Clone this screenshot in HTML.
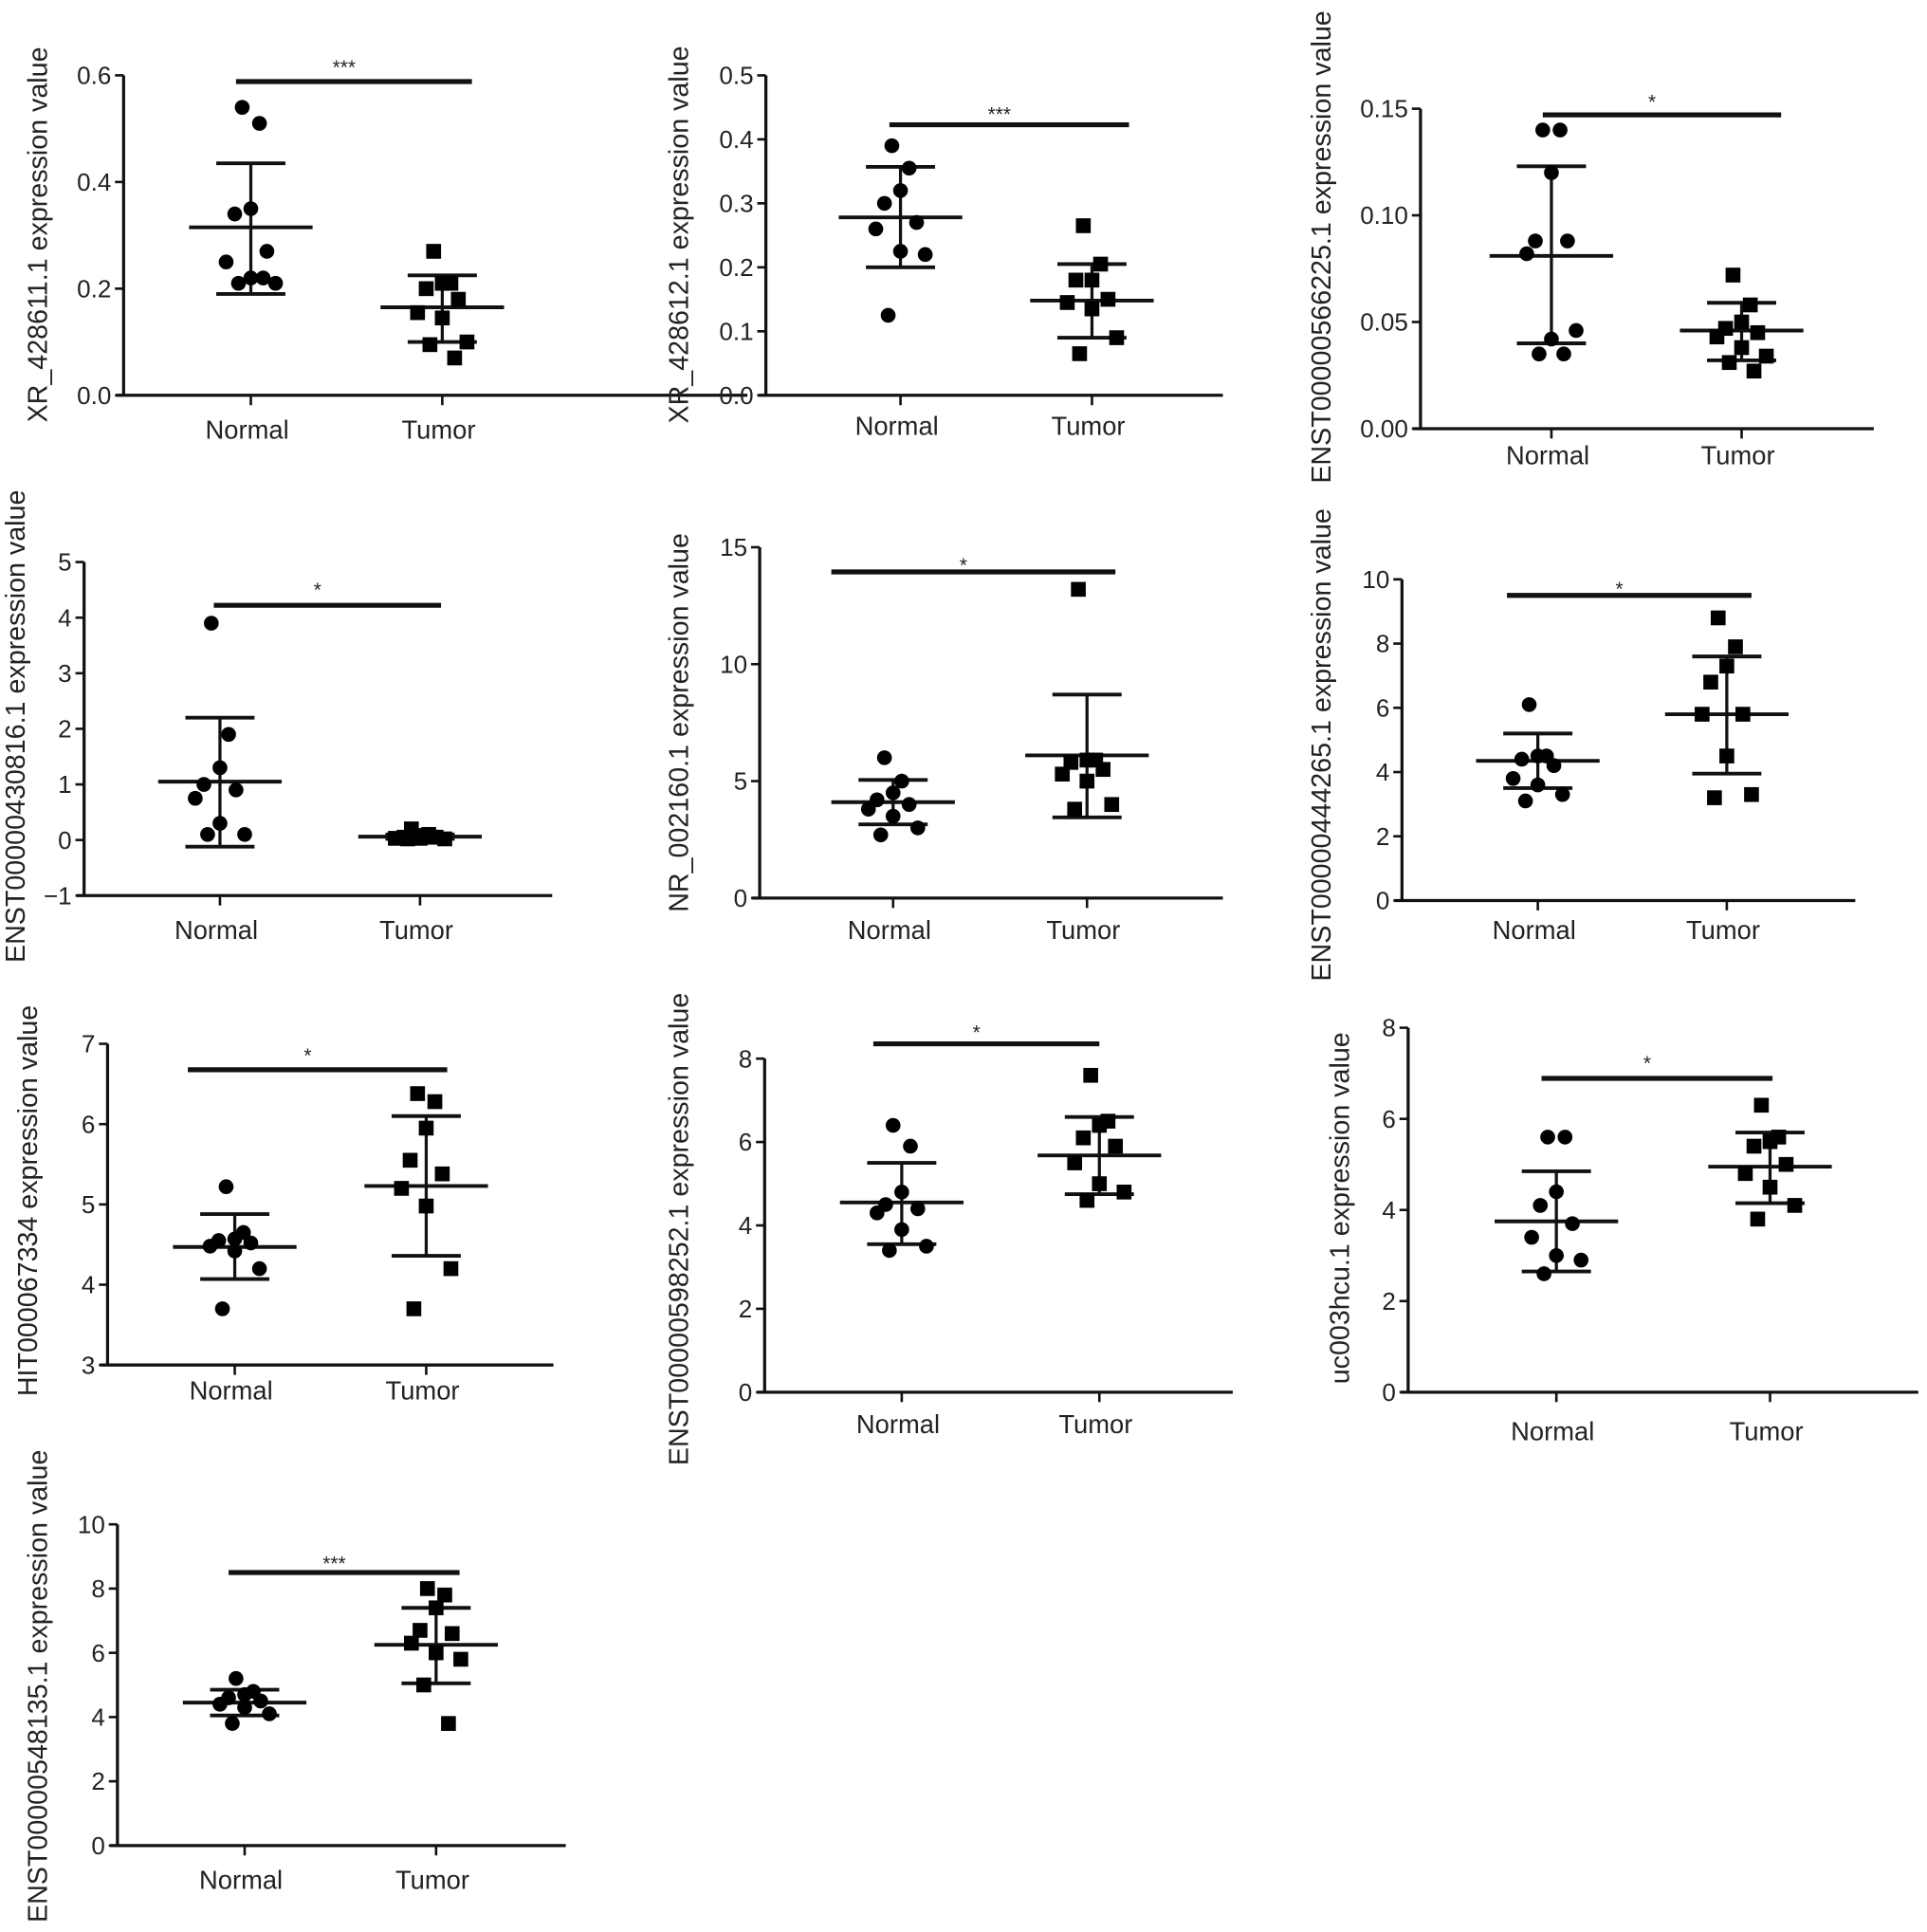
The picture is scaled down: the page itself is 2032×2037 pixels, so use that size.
<!DOCTYPE html>
<html><head><meta charset="utf-8"><style>
html,body{margin:0;padding:0;background:#fff}
svg{display:block}
text{font-family:"Liberation Sans",Arial,sans-serif;fill:#222}
</style></head><body>
<svg id="fig" width="2032" height="2037" viewBox="0 0 1560 1564" xmlns="http://www.w3.org/2000/svg"></svg>
<script>
// ---- data ----
const panelTitles = ["XR_428611.1 expression value","XR_428612.1 expression value","ENST00000566225.1 expression value","ENST00000430816.1 expression value","NR_002160.1 expression value","ENST00000444265.1 expression value","HIT000067334 expression value","ENST00000598252.1 expression value","uc003hcu.1 expression value","ENST00000548135.1 expression value"];
const categories = ["Normal","Tumor"];
const sigLabels = ["***","***","*","*","*","*","*","*","*","***"];
const normalValues = [
 [0.54,0.51,0.35,0.34,0.27,0.25,0.22,0.21,0.21,0.22],
 [0.39,0.355,0.32,0.30,0.27,0.26,0.225,0.22,0.125],
 [0.14,0.14,0.12,0.088,0.088,0.082,0.042,0.046,0.035,0.035],
 [3.9,1.9,1.3,1.0,0.9,0.75,0.3,0.1,0.1],
 [6.0,5.0,4.5,4.2,4.0,3.8,3.5,3.0,2.7],
 [6.1,4.5,4.5,4.4,4.2,3.8,3.6,3.3,3.1],
 [5.22,4.65,4.57,4.55,4.52,4.48,4.42,4.2,3.7],
 [6.4,5.9,4.8,4.5,4.4,4.3,3.9,3.5,3.4],
 [5.6,5.6,4.4,4.1,3.7,3.4,3.0,2.9,2.6],
 [5.2,4.8,4.7,4.6,4.5,4.4,4.3,4.1,3.8]
];
const tumorValues = [
 [0.27,0.21,0.21,0.20,0.18,0.155,0.145,0.10,0.095,0.07],
 [0.265,0.205,0.18,0.18,0.15,0.145,0.135,0.09,0.065],
 [0.072,0.058,0.05,0.047,0.045,0.043,0.038,0.034,0.031,0.027],
 [0.2,0.1,0.08,0.05,0.05,0.03,0.03,0.02,0.02,0.05],
 [13.2,5.9,5.9,5.8,5.5,5.3,5.0,4.0,3.8],
 [8.8,7.9,7.3,6.8,5.8,5.8,4.5,3.3,3.2],
 [6.38,6.28,5.95,5.55,5.38,5.2,4.98,4.2,3.7],
 [7.6,6.5,6.4,6.1,5.9,5.5,5.0,4.8,4.6],
 [6.3,5.6,5.5,5.4,5.0,4.8,4.5,4.1,3.8],
 [8.0,7.8,7.4,6.7,6.6,6.3,6.0,5.8,5.0,3.8]
];
const normalMeanSd = [[0.315,0.435,0.19],[0.278,0.357,0.2],[0.081,0.123,0.04],[1.05,2.2,-0.12],[4.1,5.05,3.15],[4.35,5.2,3.5],[4.47,4.88,4.07],[4.55,5.5,3.55],[3.75,4.85,2.65],[4.45,4.85,4.05]];
const tumorMeanSd = [[0.165,0.225,0.10],[0.148,0.205,0.09],[0.046,0.059,0.032],[0.06,0.1,0.02],[6.1,8.7,3.45],[5.8,7.6,3.95],[5.23,6.1,4.36],[5.68,6.6,4.75],[4.95,5.7,4.15],[6.25,7.4,5.05]];
const yMin = [0,0,0,-1,0,0,3,0,0,0];
const yMax = [0.6,0.5,0.15,5,15,10,7,8,8,10];
const tickLabels = [
 ["0.0","0.2","0.4","0.6"],["0.0","0.1","0.2","0.3","0.4","0.5"],["0.00","0.05","0.10","0.15"],
 ["−1","0","1","2","3","4","5"],["0","5","10","15"],["0","2","4","6","8","10"],
 ["3","4","5","6","7"],["0","2","4","6","8"],["0","2","4","6","8"],["0","2","4","6","8","10"]
];
// ---- layout (pixel geometry, in 1560-wide space) ----
const L = [
 {ax:100,top:61,bot:320,end:605,nx:203,tx:358,lab:348,bar:66,b1:191,b2:382,star:52,yl:38},
 {ax:620,top:61,bot:320,end:990,nx:729,tx:884,lab:345,bar:101,b1:720,b2:914,star:90,yl:557},
 {ax:1150,top:88,bot:347,end:1517,nx:1256,tx:1410,lab:369,bar:93,b1:1249,b2:1442,star:80,yl:1077},
 {ax:68,top:455,bot:725,end:447,nx:178,tx:340,lab:753,bar:490,b1:173,b2:357,star:475,yl:20},
 {ax:615,top:443,bot:727,end:990,nx:723,tx:880,lab:753,bar:463,b1:673,b2:903,star:455,yl:557},
 {ax:1135,top:469,bot:729,end:1502,nx:1245,tx:1398,lab:753,bar:482,b1:1220,b2:1418,star:474,yl:1077},
 {ax:87,top:845,bot:1105,end:448,nx:190,tx:345,lab:1126,bar:866,b1:152,b2:362,star:852,yl:30},
 {ax:619,top:857,bot:1127,end:998,nx:730,tx:890,lab:1153,bar:845,b1:707,b2:890,star:833,yl:557},
 {ax:1140,top:832,bot:1127,end:1553,nx:1260,tx:1433,lab:1159,bar:873,b1:1248,b2:1435,star:858,yl:1092},
 {ax:95,top:1234,bot:1494,end:458,nx:198,tx:353,lab:1522,bar:1273,b1:185,b2:372,star:1263,yl:38}
];
const titleCenters = [190,190,200,588,585,603,972,995,978,1365];
const jitter = [-7,7,0,-13,13,-20,0,20,-10,10];
const NS="http://www.w3.org/2000/svg";
const svg=document.getElementById('fig');
function mk(tag,attrs,parent){const e=document.createElementNS(NS,tag);for(const k in attrs)e.setAttribute(k,attrs[k]);(parent||svg).appendChild(e);return e;}
function line(g,x1,y1,x2,y2,w){return mk('line',{x1,y1,x2,y2,stroke:'#111','stroke-width':w||2.5},g);}
L.forEach((p,i)=>{
  const g=mk('g',{});
  
  
  const y=v=>p.bot-(v-yMin[i])/(yMax[i]-yMin[i])*(p.bot-p.top);
  const ya=line(g,p.ax,p.top,p.ax,p.bot);
  
  
  const xa=line(g,p.ax-6,p.bot,p.end,p.bot);
  
  
  const nT=tickLabels[i].length;
  tickLabels[i].forEach((t,k)=>{
    const v=yMin[i]+k*(yMax[i]-yMin[i])/(nT-1);
    const yy=y(v);
    line(g,p.ax-7,yy,p.ax,yy,2);
    const tx=mk('text',{x:p.ax-10,y:yy+7,'text-anchor':'end','font-size':20},g);
    tx.textContent=t;
    
    
  });
  [p.nx,p.tx].forEach((cx,c)=>{
    line(g,cx,p.bot,cx,p.bot+8,2);
    const t=mk('text',{x:cx-3,y:p.lab+7,'text-anchor':'middle','font-size':21},g);
    t.textContent=categories[c];
    
    
  });
  const cy=titleCenters[i];
  const yl=mk('text',{x:p.yl,y:cy,'text-anchor':'middle','font-size':22,transform:`rotate(-90 ${p.yl} ${cy})`},g);
  yl.textContent=panelTitles[i];
  
  
  const sb=line(g,p.b1,p.bar,p.b2,p.bar,4);
  
  
  const st=mk('text',{x:(p.b1+p.b2)/2-8,y:p.star+8,'text-anchor':'middle','font-size':16},g);
  st.textContent=sigLabels[i];
  
  
  [[normalValues[i],normalMeanSd[i],p.nx,'circle'],[tumorValues[i],tumorMeanSd[i],p.tx,'square']].forEach(([vals,ms,cx,shape])=>{
    const eg=mk('g',{},g);
    
    
    line(eg,cx,y(ms[1]),cx,y(ms[2]));
    line(eg,cx-50,y(ms[0]),cx+50,y(ms[0]),3);
    line(eg,cx-28,y(ms[1]),cx+28,y(ms[1]),3);
    line(eg,cx-28,y(ms[2]),cx+28,y(ms[2]),3);
    vals.forEach((v,k)=>{
      const x=cx+jitter[k%jitter.length];
      let m;
      if(shape==='circle') m=mk('circle',{cx:x,cy:y(v),r:6,fill:'#000'},g);
      else m=mk('rect',{x:x-6,y:y(v)-6,width:12,height:12,fill:'#000'},g);
      
      
    });
  });
});
</script>
</body></html>
